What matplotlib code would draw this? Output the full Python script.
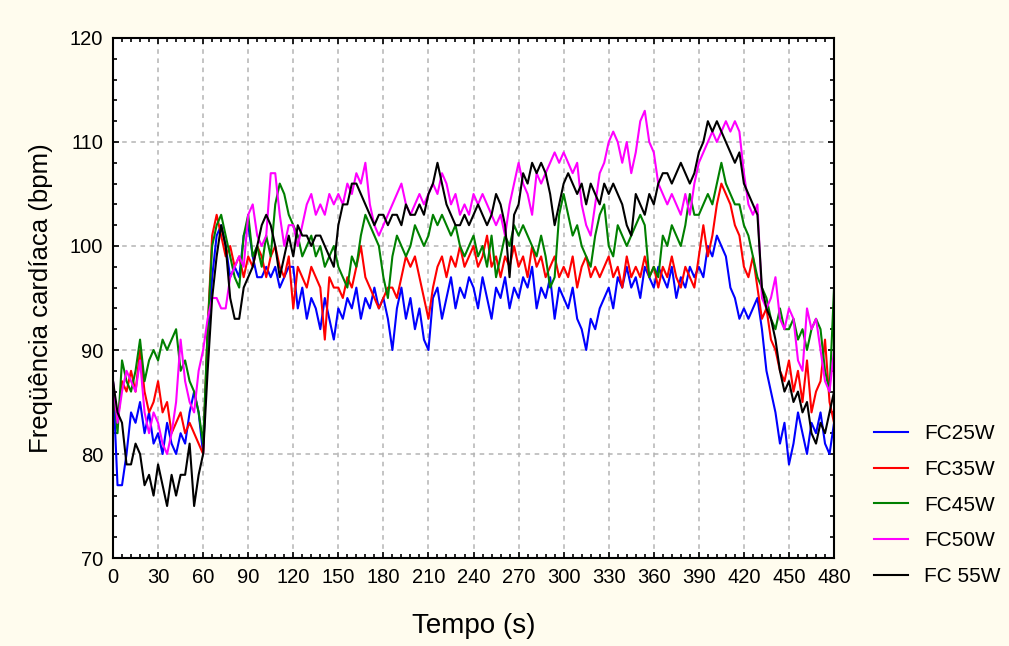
import numpy as np
import matplotlib
matplotlib.use('Agg')
import matplotlib.pyplot as plt
from matplotlib.ticker import MultipleLocator

plt.rcParams['font.family'] = ['Liberation Sans', 'DejaVu Sans']

# tempo (s), amostras a cada 3 s
tempo = np.arange(0, 481, 3)

fc25 = [87, 77, 77, 80, 84, 83, 85, 82, 84, 81,
        82, 80, 83, 81, 80, 82, 81, 84, 86, 84,
        80, 91, 97, 101, 102, 100, 97, 98, 97, 101,
        102, 99, 97, 97, 98, 97, 98, 96, 97, 98,
        98, 94, 96, 93, 95, 94, 92, 95, 93, 91,
        94, 93, 95, 94, 96, 93, 95, 94, 96, 94,
        95, 93, 90, 94, 96, 93, 95, 92, 94, 91,
        90, 95, 96, 93, 95, 97, 94, 96, 95, 97,
        96, 94, 97, 95, 93, 96, 95, 97, 94, 96,
        95, 97, 96, 98, 94, 96, 95, 97, 93, 96,
        95, 94, 96, 93, 92, 90, 93, 92, 94, 95,
        96, 94, 97, 96, 98, 96, 97, 95, 98, 97,
        96, 98, 97, 96, 98, 95, 97, 96, 98, 97,
        98, 97, 100, 99, 101, 100, 99, 96, 95, 93,
        94, 93, 94, 95, 92, 88, 86, 84, 81, 83,
        79, 81, 84, 82, 80, 83, 82, 84, 81, 80,
        83]

fc35 = [86, 83, 87, 86, 88, 86, 90, 86, 84, 85,
        87, 84, 85, 82, 83, 84, 82, 83, 82, 81,
        80, 92, 101, 103, 101, 99, 100, 98, 99, 97,
        99, 98, 100, 99, 97, 99, 100, 98, 97, 99,
        94, 98, 97, 96, 98, 97, 96, 91, 97, 96,
        96, 95, 97, 96, 98, 100, 97, 96, 95, 94,
        95, 96, 96, 95, 97, 99, 98, 99, 97, 95,
        93, 96, 98, 99, 97, 99, 98, 100, 98, 99,
        100, 98, 99, 101, 98, 99, 97, 99, 98, 100,
        98, 99, 97, 100, 98, 99, 97, 98, 99, 97,
        98, 97, 99, 96, 98, 99, 97, 98, 97, 98,
        99, 97, 98, 96, 99, 97, 98, 97, 99, 97,
        98, 96, 98, 97, 99, 97, 96, 98, 97, 96,
        99, 102, 99, 101, 104, 106, 105, 104, 102, 101,
        98, 97, 99, 96, 93, 94, 91, 90, 88, 87,
        89, 86, 88, 85, 89, 84, 86, 87, 91, 85,
        83]

fc45 = [87, 82, 89, 87, 86, 88, 91, 87, 89, 90,
        89, 91, 90, 91, 92, 88, 89, 87, 86, 84,
        81, 92, 100, 102, 103, 101, 99, 97, 96, 101,
        103, 99, 100, 98, 101, 99, 104, 106, 105, 103,
        102, 101, 99, 100, 101, 99, 100, 98, 99, 100,
        98, 97, 96, 99, 98, 101, 103, 102, 101, 100,
        97, 95, 99, 101, 100, 99, 100, 102, 101, 100,
        101, 103, 102, 103, 102, 101, 102, 100, 99, 100,
        101, 99, 100, 98, 101, 97, 99, 101, 100, 102,
        101, 102, 101, 100, 99, 101, 99, 96, 97, 103,
        105, 103, 101, 102, 100, 99, 98, 101, 103, 104,
        100, 99, 102, 101, 100, 101, 102, 103, 102, 97,
        98, 97, 101, 100, 102, 101, 100, 102, 105, 103,
        103, 104, 105, 104, 106, 108, 106, 105, 104, 104,
        102, 101, 99, 97, 96, 95, 93, 92, 94, 92,
        92, 93, 91, 92, 90, 92, 93, 92, 88, 86,
        96]

fc50 = [87, 83, 86, 88, 87, 86, 89, 84, 82, 84,
        83, 81, 80, 82, 85, 91, 87, 85, 84, 88,
        90, 93, 95, 95, 94, 94, 97, 98, 99, 98,
        103, 104, 101, 100, 101, 107, 107, 103, 100, 102,
        102, 100, 102, 104, 105, 103, 104, 103, 105, 104,
        105, 104, 106, 105, 107, 106, 108, 104, 102, 101,
        102, 103, 104, 105, 106, 104, 103, 104, 105, 104,
        105, 106, 105, 107, 106, 104, 105, 103, 104, 103,
        105, 104, 105, 104, 103, 102, 103, 101, 104, 106,
        108, 106, 105, 103, 107, 106, 107, 108, 109, 108,
        109, 108, 107, 108, 104, 102, 101, 104, 107, 108,
        110, 111, 110, 108, 110, 107, 109, 112, 113, 110,
        109, 106, 105, 104, 105, 104, 103, 105, 103, 106,
        108, 109, 110, 111, 110, 111, 112, 111, 112, 111,
        107, 104, 103, 104, 95, 94, 95, 97, 93, 92,
        94, 93, 89, 88, 94, 92, 93, 90, 87, 86,
        90]

fc55 = [87, 84, 83, 79, 79, 81, 80, 77, 78, 76,
        79, 77, 75, 78, 76, 78, 78, 81, 75, 78,
        80, 88, 95, 99, 102, 100, 95, 93, 93, 96,
        97, 98, 100, 102, 103, 102, 100, 97, 99, 101,
        99, 102, 101, 101, 100, 101, 101, 100, 99, 98,
        102, 104, 104, 106, 106, 105, 104, 103, 102, 103,
        103, 102, 103, 103, 102, 104, 103, 103, 104, 103,
        105, 106, 108, 106, 104, 103, 102, 102, 103, 102,
        103, 104, 103, 102, 103, 105, 104, 102, 97, 103,
        104, 107, 106, 108, 107, 108, 107, 105, 102, 104,
        106, 107, 106, 105, 106, 104, 106, 105, 104, 106,
        105, 106, 105, 104, 102, 101, 105, 104, 103, 105,
        104, 106, 107, 107, 106, 107, 108, 107, 106, 107,
        109, 110, 112, 111, 112, 111, 110, 109, 108, 109,
        106, 105, 104, 103, 96, 94, 93, 91, 88, 86,
        87, 85, 86, 84, 85, 82, 81, 83, 82, 84,
        86]

series = [('FC25W', fc25, '#0000ff'),
          ('FC35W', fc35, '#ff0000'),
          ('FC45W', fc45, '#008000'),
          ('FC50W', fc50, '#ff00ff'),
          ('FC 55W', fc55, '#000000')]

fig = plt.figure(figsize=(10.09, 6.46), dpi=100, facecolor='#fffcee')
ax = fig.add_axes([0.112, 0.1362, 0.7146, 0.805])
ax.set_facecolor('white')

for nome, fc, cor in series:
    ax.plot(tempo, fc, color=cor, lw=1.5, label=nome)

ax.set_xlim(0, 480)
ax.set_ylim(70, 120)
ax.xaxis.set_major_locator(MultipleLocator(30))
ax.xaxis.set_minor_locator(MultipleLocator(6))
ax.yaxis.set_major_locator(MultipleLocator(10))
ax.yaxis.set_minor_locator(MultipleLocator(2))
ax.tick_params(which='both', direction='in', top=True, right=True,
               width=1.2, labelsize=14.5, pad=7)
ax.tick_params(which='major', length=4)
ax.tick_params(which='minor', length=3)
for s in ax.spines.values():
    s.set_linewidth(1.5)

ax.grid(True, which='major', color='#b4b4b4', ls=(0, (3, 3)), lw=1.1)
ax.set_axisbelow(True)

ax.set_xlabel('Tempo (s)', fontsize=20, labelpad=19)
ax.set_ylabel('Freqüência cardíaca (bpm)', fontsize=18.5, labelpad=12)

fig.legend(loc='upper left', bbox_to_anchor=(0.866, 0.343), frameon=False,
           fontsize=15, handlelength=1.65, handletextpad=0.75,
           labelspacing=0.80, borderpad=0, borderaxespad=0)

plt.savefig('out.png', dpi=100, facecolor=fig.get_facecolor())
